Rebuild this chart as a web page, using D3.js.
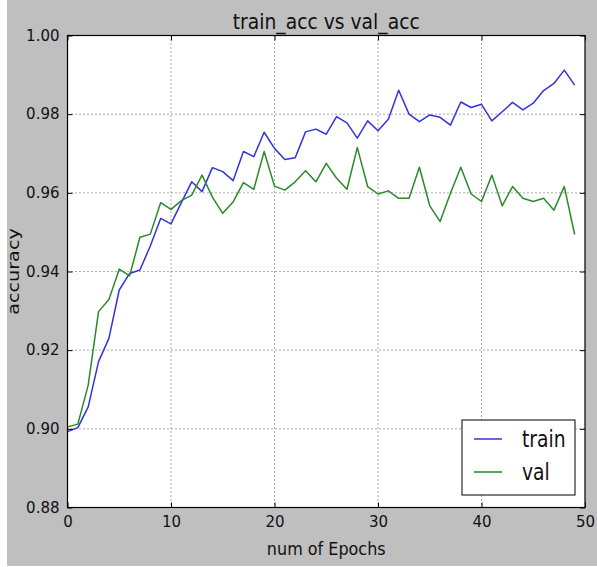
<!DOCTYPE html>
<html lang="en">
<head>
  <meta charset="UTF-8">
  <title>train_acc vs val_acc</title>
  <style>
    body {
      margin: 0;
      background: #fff;
    }
    svg text {
      font-family: "DejaVu Sans", sans-serif;
      fill: #111;
    }
    .grid line {
      stroke: #444;
      stroke-width: 0.9;
      stroke-dasharray: 1, 3;
    }
  </style>
</head>
<body>
  <script src="https://d3js.org/d3.v7.min.js"></script>
  <script>
    const epochs = d3.range(0, 50);

    const trainAcc = [
      0.8993, 0.9003, 0.9056, 0.9171, 0.9230, 0.9353, 0.9395, 0.9404, 0.9465, 0.9535,
      0.9521, 0.9575, 0.9628, 0.9603, 0.9664, 0.9654, 0.9631, 0.9705, 0.9692, 0.9754,
      0.9713, 0.9685, 0.9689, 0.9755, 0.9762, 0.9749, 0.9794, 0.9778, 0.9739, 0.9783,
      0.9758, 0.9787, 0.9861, 0.9800, 0.9781, 0.9798, 0.9792, 0.9772, 0.9831, 0.9817,
      0.9825, 0.9783, 0.9806, 0.9830, 0.9811, 0.9828, 0.9860, 0.9878, 0.9912, 0.9874
    ];

    const valAcc = [
      0.9005, 0.9012, 0.9111, 0.9298, 0.9329, 0.9406, 0.9389, 0.9487, 0.9495, 0.9575,
      0.9558, 0.9580, 0.9594, 0.9645, 0.9589, 0.9548, 0.9577, 0.9626, 0.9609, 0.9705,
      0.9617, 0.9607, 0.9628, 0.9656, 0.9628, 0.9675, 0.9637, 0.9609, 0.9715, 0.9616,
      0.9597, 0.9605, 0.9586, 0.9586, 0.9665, 0.9567, 0.9527, 0.9599, 0.9665, 0.9597,
      0.9578, 0.9645, 0.9567, 0.9616, 0.9586, 0.9578, 0.9586, 0.9556, 0.9616, 0.9494
    ];

    const xTicks = [0, 10, 20, 30, 40, 50];
    const yTicks = [0.88, 0.90, 0.92, 0.94, 0.96, 0.98, 1.00];

    const series = [
      { name: 'train', values: trainAcc, color: '#3333dd' },
      { name: 'val', values: valAcc, color: '#2a8a2a' }
    ];

    const width = 597;
    const height = 567;
    const plot = { left: 67.5, right: 585, top: 35.5, bottom: 507.5 };

    const svg = d3.select('body').append('svg')
      .attr('width', width)
      .attr('height', height);

    // figure background (gray, with a thin white strip at left like the screenshot)
    svg.append('rect')
      .attr('x', 7).attr('y', 0)
      .attr('width', width - 7).attr('height', height - 1)
      .attr('fill', '#bfbfbf');

    const x = d3.scaleLinear().domain([0, 50]).range([plot.left, plot.right]);
    const y = d3.scaleLinear().domain([0.88, 1.00]).range([plot.bottom, plot.top]);

    svg.append('rect')
      .attr('x', plot.left).attr('y', plot.top)
      .attr('width', plot.right - plot.left).attr('height', plot.bottom - plot.top)
      .attr('fill', '#fff');

    // dotted grid
    const grid = svg.append('g').attr('class', 'grid');
    grid.selectAll('.gx')
      .data(xTicks.slice(1, -1))
      .enter().append('line')
      .attr('x1', d => x(d)).attr('x2', d => x(d))
      .attr('y1', plot.top).attr('y2', plot.bottom);
    grid.selectAll('.gy')
      .data(yTicks.slice(1, -1))
      .enter().append('line')
      .attr('y1', d => y(d)).attr('y2', d => y(d))
      .attr('x1', plot.left).attr('x2', plot.right);

    // lines
    const line = d3.line()
      .x((d, i) => x(epochs[i]))
      .y(d => y(d));

    svg.selectAll('.series')
      .data(series)
      .enter().append('path')
      .attr('class', 'series')
      .attr('d', d => line(d.values))
      .attr('fill', 'none')
      .attr('stroke', d => d.color)
      .attr('stroke-width', 1.5)
      .attr('stroke-linejoin', 'round');

    // axes with inward ticks on all sides
    function styleAxis(g) {
      g.select('.domain').remove();
      g.selectAll('.tick line').attr('stroke', '#000').attr('stroke-width', 1);
      g.selectAll('.tick text')
        .attr('font-size', 15)
        .attr('fill', '#111')
        .attr('font-family', '"DejaVu Sans", sans-serif');
    }

    svg.append('g')
      .attr('transform', `translate(0,${plot.bottom})`)
      .call(d3.axisBottom(x).tickValues(xTicks).tickFormat(d3.format('d'))
        .tickSizeInner(-5).tickSizeOuter(0).tickPadding(9))
      .call(styleAxis);

    svg.append('g')
      .attr('transform', `translate(0,${plot.top})`)
      .call(d3.axisTop(x).tickValues(xTicks).tickFormat('')
        .tickSizeInner(-5).tickSizeOuter(0))
      .call(styleAxis);

    svg.append('g')
      .attr('transform', `translate(${plot.left},0)`)
      .call(d3.axisLeft(y).tickValues(yTicks).tickFormat(d3.format('.2f'))
        .tickSizeInner(-5).tickSizeOuter(0).tickPadding(8))
      .call(styleAxis);

    svg.append('g')
      .attr('transform', `translate(${plot.right},0)`)
      .call(d3.axisRight(y).tickValues(yTicks).tickFormat('')
        .tickSizeInner(-5).tickSizeOuter(0))
      .call(styleAxis);

    // frame
    svg.append('rect')
      .attr('x', plot.left).attr('y', plot.top)
      .attr('width', plot.right - plot.left).attr('height', plot.bottom - plot.top)
      .attr('fill', 'none')
      .attr('stroke', '#000')
      .attr('stroke-width', 1.2);

    // title and labels
    svg.append('text')
      .attr('transform', `translate(${(plot.left + plot.right) / 2},29) scale(1,1.1)`)
      .attr('text-anchor', 'middle')
      .attr('font-size', 18.75)
      .text('train_acc vs val_acc');

    svg.append('text')
      .attr('transform', `translate(${(plot.left + plot.right) / 2},555) scale(1,1.15)`)
      .attr('text-anchor', 'middle')
      .attr('font-size', 16)
      .text('num of Epochs');

    // the picture is stretched vertically, so the rotated label runs longer
    svg.append('text')
      .attr('transform', `translate(19,${(plot.top + plot.bottom) / 2}) rotate(-90) scale(1.2,1)`)
      .attr('text-anchor', 'middle')
      .attr('font-size', 16)
      .text('accuracy');

    // legend
    const legend = svg.append('g');
    legend.append('rect')
      .attr('x', 462).attr('y', 420)
      .attr('width', 113).attr('height', 75)
      .attr('fill', '#fff')
      .attr('stroke', '#000')
      .attr('stroke-width', 1);

    const item = legend.selectAll('.item')
      .data(series)
      .enter().append('g')
      .attr('transform', (d, i) => `translate(0,${439 + i * 33})`);

    item.append('line')
      .attr('x1', 474).attr('x2', 502)
      .attr('stroke', d => d.color)
      .attr('stroke-width', 1.5);

    item.append('text')
      .attr('transform', 'translate(522,0) scale(1,1.18)')
      .attr('dy', '0.35em')
      .attr('font-size', 18.75)
      .text(d => d.name);
  </script>
</body>
</html>
